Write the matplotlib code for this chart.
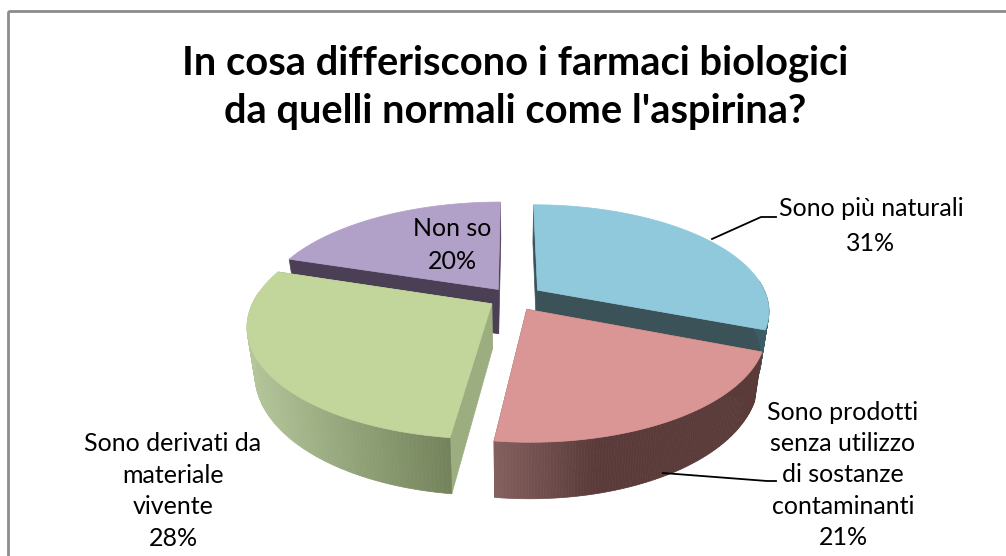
import numpy as np
import matplotlib
matplotlib.use("Agg")
import matplotlib.pyplot as plt
from matplotlib.patches import Polygon, Rectangle
from matplotlib.colors import to_rgb

# --- data
title = "In cosa differiscono i farmaci biologici\nda quelli normali come l'aspirina?"
categories = ["Sono più naturali",
              "Sono prodotti\nsenza utilizzo\ndi sostanze\ncontaminanti",
              "Sono derivati da\nmateriale\nvivente",
              "Non so"]
values = [31, 21, 28, 20]

# --- style
top_colors = ["#8FC9DB", "#D99694", "#C2D59B", "#B1A0C7"]
radial_colors = ["#3C5259", "#7C5A58", "#9CAE80", "#4A3F54"]
arc_light = ["#4A7580", "#85605E", "#B4C69A", "#6A5A78"]
arc_dark = ["#3C5D66", "#5A3B3A", "#74835B", "#4A3F54"]
draw_order = [3, 0, 2, 1]
explode = [0.132, 0.12, 0.10, 0.10]
radius = [0.97, 0.97, 1.0, 1.0]
label_xy = [(871, 226), (843, 475), (173, 491), (452, 245)]
label_spacing = [1.62, 1.43, 1.44, 1.52]

CX, CY, R, RY, K, DEPTH, SHRINK = 512, 298, 237, 107, 0.19, 45, 0.97

fig = plt.figure(figsize=(10.06, 5.56), dpi=100)
ax = fig.add_axes([0, 0, 1, 1])
ax.set_xlim(0, 1006)
ax.set_ylim(556, 0)
ax.axis("off")
plt.rcParams["font.family"] = ["Lato", "DejaVu Sans"]


def top_pt(u, v):
    s = 1 / (1 + K * v)
    return np.array([CX + R * u * s, CY - RY * v * s]), s


def bot_pt(u, v):
    p, s = top_pt(u, v)
    return np.array([CX + (p[0] - CX) * SHRINK, p[1] + DEPTH * s])


total = sum(values)
spans = []
start = 90.0
for val in values:
    sweep = 360.0 * val / total
    spans.append((start, start - sweep))
    start -= sweep

ax.add_patch(Rectangle((8, 11), 1100, 700, fill=False, ec="#8C8C8C", lw=2, zorder=0))

for idx in draw_order:
    a0, a1 = spans[idx]
    mid = np.radians((a0 + a1) / 2)
    ox, oy = explode[idx] * np.cos(mid), explode[idx] * np.sin(mid)
    th = np.radians(np.linspace(a0, a1, 121))
    us = radius[idx] * np.cos(th) + ox
    vs = radius[idx] * np.sin(th) + oy
    tops = np.array([top_pt(u, v)[0] for u, v in zip(us, vs)])
    bots = np.array([bot_pt(u, v) for u, v in zip(us, vs)])
    apex_t = top_pt(ox, oy)[0]
    apex_b = bot_pt(ox, oy)
    base = draw_order.index(idx) * 10 + 1
    for j in (0, -1):
        ax.add_patch(Polygon([apex_t, tops[j], bots[j], apex_b], closed=True,
                             fc=radial_colors[idx], ec=radial_colors[idx], lw=0.5, zorder=base))
    xmin, xmax = tops[:, 0].min(), tops[:, 0].max()
    c0, c1 = np.array(to_rgb(arc_light[idx])), np.array(to_rgb(arc_dark[idx]))
    for j in range(len(tops) - 1):
        if np.sin(th[j]) > 0.1:
            continue
        f = (tops[j, 0] - xmin) / max(xmax - xmin, 1)
        if idx == 1:
            f = min(1.0, f * 2.6)
        col = c0 + (c1 - c0) * f
        ax.add_patch(Polygon([tops[j], tops[j + 1], bots[j + 1], bots[j]], closed=True,
                             fc=col, ec=col, lw=0.5, zorder=base + 1))
    ax.add_patch(Polygon(np.vstack([apex_t, tops]), closed=True, fc=top_colors[idx],
                         ec=top_colors[idx], lw=0.5, zorder=base + 2))

ax.plot([712, 761, 776], [239, 217, 217], color="black", lw=1.3, zorder=60)
ax.plot([663, 767, 776], [473, 481, 481], color="black", lw=1.3, zorder=60)

ax.text(515, 87, title, ha="center", va="center", fontsize=28.75, fontweight="bold",
        linespacing=1.38, color="black", zorder=70)
for cat, val, (x, y), sp in zip(categories, values, label_xy, label_spacing):
    ax.text(x, y, f"{cat}\n{val}%", ha="center", va="center", fontsize=18,
            linespacing=sp, color="black", zorder=70)

fig.savefig("out.png", dpi=100)
